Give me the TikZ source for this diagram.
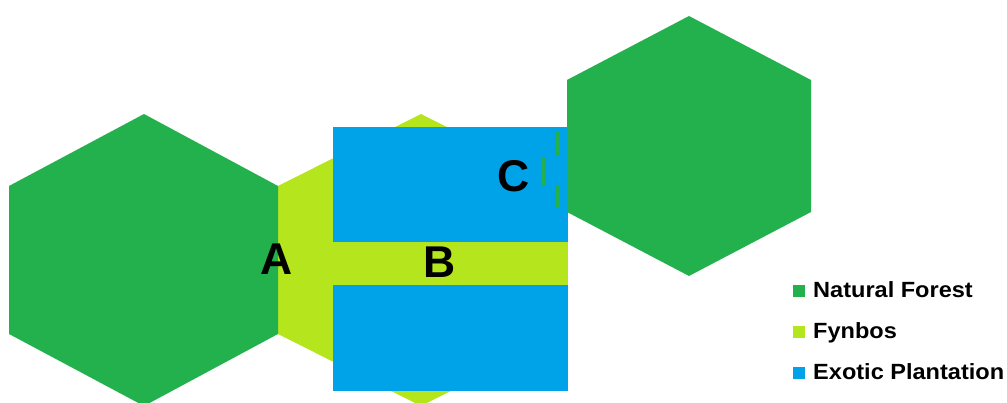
\documentclass[tikz,border=0pt]{standalone}
\usepackage{fontspec}
\setmainfont{Liberation Sans}
\definecolor{forest}{RGB}{34,177,76}
\definecolor{fynbos}{RGB}{181,230,29}
\definecolor{plantation}{RGB}{0,162,232}
\tikzset{
  bigletter/.style={font=\bfseries\fontsize{44.5}{44.5}\selectfont, inner sep=0pt, text=black},
  legendkey/.style={draw=none, minimum size=12pt, inner sep=0pt},
  legendtext/.style={font=\bfseries\fontsize{22}{22}\selectfont, inner sep=0pt, anchor=base west, xscale=1.07, transform shape},
  edgemark/.style={draw=forest, line width=3pt}
}
\begin{document}
\begin{tikzpicture}[x=1pt, y=-1pt]
\useasboundingbox (0,0) rectangle (1007,403);

% fynbos patch behind the plantation block
\fill[fynbos] (421,114) -- (564,186) -- (564,334) -- (421,406) -- (278,334) -- (278,186) -- cycle;

% left natural forest patch
\fill[forest] (144,114) -- (278,186) -- (278,334) -- (144,406) -- (9,334) -- (9,186) -- cycle;

% exotic plantation block split by a fynbos strip
\fill[plantation] (333,127) rectangle (568,391);
\fill[fynbos] (333,242) rectangle (568,285);

% right natural forest patch
\fill[forest] (689,16) -- (811,80) -- (811,212) -- (689,276) -- (567,212) -- (567,80) -- cycle;

% broken forest edge next to C
\coordinate (e1) at (557,132); \coordinate (e2) at (557,156);
\coordinate (e3) at (543,158); \coordinate (e4) at (543,185);
\coordinate (e5) at (557,186); \coordinate (e6) at (557,207);
\draw[edgemark] (e1) -- (e2);
\draw[edgemark] (e3) -- (e4);
\draw[edgemark] (e5) -- (e6);

% site labels
\node[bigletter] (A) at (277,259) {A};
\node[bigletter] (B) at (440,262.5) {B};
\node[bigletter] (C) at (514,176) {C};

% legend
\node[legendkey, fill=forest] (k1) at (799,291) {};
\node[legendkey, fill=fynbos] (k2) at (799,332) {};
\node[legendkey, fill=plantation] (k3) at (799,373) {};
\node[legendtext] (t1) at (813,298) {Natural Forest};
\node[legendtext] (t2) at (813,339) {Fynbos};
\node[legendtext] (t3) at (813,380) {Exotic Plantation};
\end{tikzpicture}
\end{document}
